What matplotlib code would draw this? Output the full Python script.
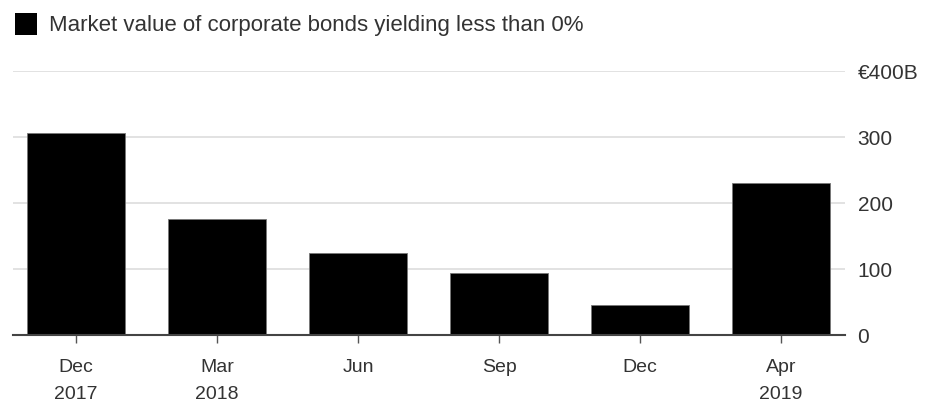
import numpy as np
import matplotlib.pyplot as plt
from matplotlib.patches import Rectangle

plt.rcParams['font.family'] = ['Liberation Sans', 'DejaVu Sans']

# data (EUR billions)
months = ['Dec', 'Mar', 'Jun', 'Sep', 'Dec', 'Apr']
years = ['2017', '2018', '', '', '', '2019']
values = [306, 176, 125, 94, 46, 231]
yticks = [0, 100, 200, 300, 400]
ytick_labels = ['0', '100', '200', '300', '€400B']
legend_label = 'Market value of corporate bonds yielding less than 0%'

text_color = '#333333'

fig = plt.figure(figsize=(9.28, 4.03), dpi=100)
ax = fig.add_axes([0.014, 0.1687, 0.8966, 0.6551])

x = np.arange(len(values))
ax.bar(x, values, width=0.70, color='black', edgecolor='#777777', linewidth=0.6, zorder=3)

ax.set_xlim(-0.447, 5.454)
ax.set_ylim(0, 400)

ax.set_yticks(yticks)
ax.set_yticklabels(ytick_labels)
ax.yaxis.tick_right()
ax.tick_params(axis='y', length=0, pad=9, labelsize=15, labelcolor=text_color)
ax.grid(axis='y', color='#dddddd', linewidth=1.2, zorder=0)

ax.set_xticks(x)
ax.set_xticklabels([m + '\n' + y if y else m for m, y in zip(months, years)],
                   linespacing=1.8, va='top')
ax.tick_params(axis='x', length=6, width=1, color='#555555', pad=11,
               labelsize=14, labelcolor=text_color)

for s in ['top', 'right', 'left']:
  ax.spines[s].set_visible(False)
ax.spines['bottom'].set_color('#444444')
ax.spines['bottom'].set_linewidth(1.5)
ax.spines['bottom'].set_zorder(4)

# legend swatch + label at the top
fig.patches.append(Rectangle((15 / 928, 1 - 35 / 403), 22 / 928, 22 / 403,
                             transform=fig.transFigure, facecolor='black',
                             edgecolor='none'))
fig.text(49 / 928, 1 - 25 / 403, legend_label, fontsize=16, color=text_color,
         va='center', ha='left')

plt.savefig('out.png', dpi=100)
